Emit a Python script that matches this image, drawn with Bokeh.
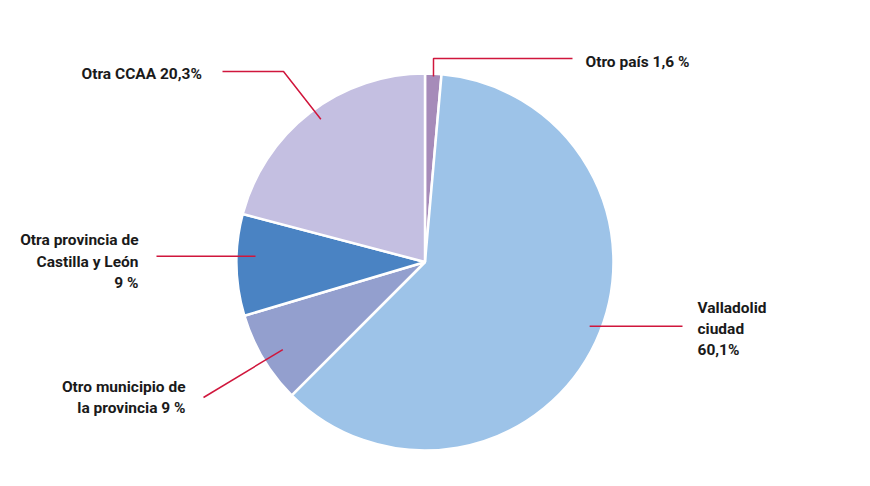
import math
from bokeh.plotting import figure
from bokeh.models import Range1d
from bokeh.core.properties import value
from bokeh.embed import file_html
from bokeh.resources import INLINE

categories = ["Otro país", "Valladolid ciudad", "Otro municipio de la provincia",
              "Otra provincia de Castilla y León", "Otra CCAA"]
shares = [1.4, 61.1, 7.9, 8.7, 20.9]
label_lines = [
    ["Otro país 1,6 %"],
    ["Valladolid", "ciudad", "60,1%"],
    ["Otro municipio de", "la provincia 9 %"],
    ["Otra provincia de", "Castilla y León", "9 %"],
    ["Otra CCAA 20,3%"],
]
colors = ["#a68bb9", "#9dc3e8", "#939fce", "#4a83c3", "#c4bfe1"]

# ---- layout (page pixel coords) ----
W, H = 854, 470
def X(px): return px
def Y(py): return H - py

cx, cy, R = X(424.5), Y(261.5), 188.5
anchor_frac = [0.52, 0.483, 0.47, 0.59, 0.52]
anchor_r = [185.7, 176.7, 167, 169.6, 176.7]
leader_paths = [
    [(433, 58), (572, 58)],
    [("h", 682)],
    [(203, 397)],
    [("h", 156)],
    [(283, 71), (222, 71)],
]
label_pos = [
    (585, [61], "left"),
    (697, [307, 328, 349], "left"),
    (185, [386, 407], "right"),
    (138, [239, 261, 282], "right"),
    (81, [73], "left"),
]

p = figure(width=W, height=H, output_backend="svg", toolbar_location=None,
           x_range=Range1d(0, W), y_range=Range1d(0, H), min_border=0)
p.axis.visible = False
p.grid.visible = False
p.outline_line_color = None
p.background_fill_color = "white"

total = sum(shares)
cum = 0.0
starts, ends, anchors = [], [], []
for i, s in enumerate(shares):
    a0 = math.pi / 2 - 2 * math.pi * cum / total
    cum += s
    a1 = math.pi / 2 - 2 * math.pi * cum / total
    starts.append(a0); ends.append(a1)
    anchors.append(a0 + (a1 - a0) * anchor_frac[i])

p.wedge(x=[cx] * len(shares), y=[cy] * len(shares), radius=R,
        start_angle=starts, end_angle=ends, direction="clock",
        fill_color=colors, line_color="white", line_width=2.5)

lead_col = "#d0163c"
for i, m in enumerate(anchors):
    ax = cx + anchor_r[i] * math.cos(m)
    ay = cy + anchor_r[i] * math.sin(m)
    xs, ys = [ax], [ay]
    for pt in leader_paths[i]:
        if pt[0] == "h":
            xs.append(X(pt[1])); ys.append(ay)
        else:
            xs.append(X(pt[0])); ys.append(Y(pt[1]))
    p.line(xs, ys, line_color=lead_col, line_width=1.5)

for i, lines in enumerate(label_lines):
    lx, lys, align = label_pos[i]
    p.text(x=[X(lx)] * len(lines), y=[Y(v) for v in lys], text=lines,
           text_font=value("Roboto"), text_font_size="15.5px", text_font_style="bold",
           text_color="#1a1a1a", text_align=align, text_baseline="middle")

open("out.html", "w").write(file_html(p, INLINE))
